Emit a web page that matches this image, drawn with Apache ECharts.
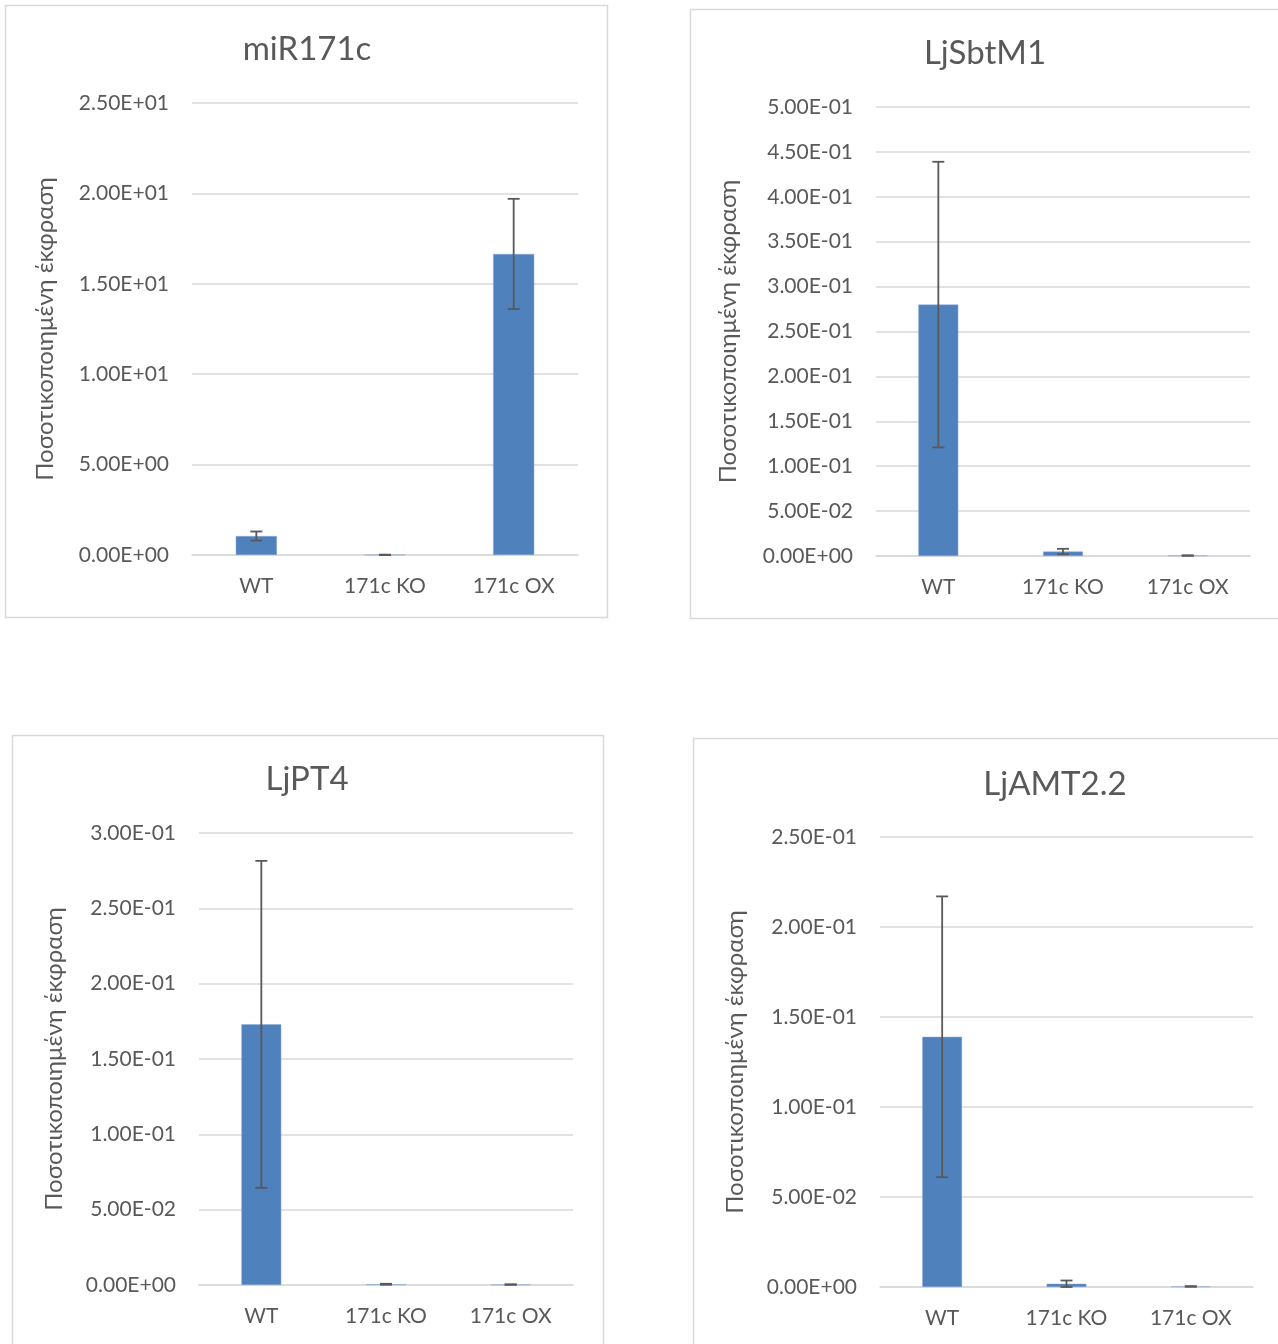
<!DOCTYPE html>
<html>
<head>
<meta charset="utf-8">
<style>
  html, body { margin: 0; padding: 0; background: #ffffff; }
  #chart { width: 1278px; height: 1344px; }
</style>
<script src="https://cdn.jsdelivr.net/npm/echarts@6/dist/echarts.min.js"></script>
</head>
<body>
<div id="chart"></div>
<script>
// Relative expression of four genes in WT, knock-out and over-expression lines
const categories = ['WT', '171c KO', '171c OX'];
const genes = ['miR171c', 'LjSbtM1', 'LjPT4', 'LjAMT2.2'];

const miR171cValues = [1.05, 0.01, 16.65];
const miR171cErrors = [0.25, 0.01, 3.05];

const LjSbtM1Values = [0.28, 0.005, 0.0005];
const LjSbtM1Errors = [0.159, 0.003, 0.0003];

const LjPT4Values = [0.173, 0.0005, 0.0003];
const LjPT4Errors = [0.1085, 0.0003, 0.0002];

const LjAMT22Values = [0.139, 0.0018, 0.0003];
const LjAMT22Errors = [0.078, 0.0018, 0.0002];

// y-axis ranges: max and tick interval per panel
const axisMax = [25, 0.5, 0.3, 0.25];
const axisStep = [5, 0.05, 0.05, 0.05];

const yTitle = 'Ποσοτικοποιημένη έκφραση';

const allValues = [miR171cValues, LjSbtM1Values, LjPT4Values, LjAMT22Values];
const allErrors = [miR171cErrors, LjSbtM1Errors, LjPT4Errors, LjAMT22Errors];

// Panel layout (frame box, plot box, title centre, axis-name gap)
const panels = [
  { frame: [5, 5, 602, 612],     grid: [192, 103, 386, 452], titleX: 307,  titleY: 33,  nameGap: 135 },
  { frame: [690, 9, 600, 609],   grid: [876, 107, 374, 449], titleX: 985,  titleY: 37,  nameGap: 136 },
  { frame: [12, 735, 591, 640],  grid: [199, 833, 374, 452], titleX: 307,  titleY: 763, nameGap: 133 },
  { frame: [693, 738, 600, 640], grid: [880, 837, 373, 450], titleX: 1055, titleY: 768, nameGap: 133 }
];

const FONT = 'Lato, "Open Sans", sans-serif';
const TEXT = '#595959';
const GRID_LINE = '#d9d9d9';
const BAR = '#4f81bd';

// Excel-style scientific tick labels, e.g. 2.50E+01
function sci(v) {
  if (v === 0) return '0.00E+00';
  let e = Math.floor(Math.log10(Math.abs(v)) + 1e-9);
  let ms = (v / Math.pow(10, e)).toFixed(2);
  if (parseFloat(ms) >= 10) { e += 1; ms = (v / Math.pow(10, e)).toFixed(2); }
  const sign = e < 0 ? '-' : '+';
  const ae = Math.abs(e);
  return ms + 'E' + sign + (ae < 10 ? '0' + ae : '' + ae);
}

const chart = echarts.init(document.getElementById('chart'), null, { renderer: 'canvas' });

const grid = [], xAxis = [], yAxis = [], series = [], title = [], graphic = [];

panels.forEach((p, i) => {
  graphic.push({
    type: 'rect', z: -10,
    shape: { x: p.frame[0] + 0.5, y: p.frame[1] + 0.5, width: p.frame[2], height: p.frame[3] },
    style: { fill: '#ffffff', stroke: GRID_LINE, lineWidth: 1.5 }
  });
  title.push({
    text: genes[i], left: p.titleX, top: p.titleY, textAlign: 'center', padding: 0,
    textStyle: { fontFamily: FONT, fontSize: 33, fontWeight: 'normal', color: TEXT }
  });
  grid.push({ left: p.grid[0], top: p.grid[1], width: p.grid[2], height: p.grid[3], containLabel: false });
  xAxis.push({
    type: 'category', gridIndex: i, data: categories,
    axisLine: { show: true, lineStyle: { color: GRID_LINE, width: 1.5 } },
    axisTick: { show: false },
    axisLabel: { fontFamily: FONT, fontSize: 21, color: TEXT, margin: 21 }
  });
  yAxis.push({
    type: 'value', gridIndex: i, min: 0, max: axisMax[i], interval: axisStep[i],
    name: yTitle, nameLocation: 'middle', nameRotate: 90, nameGap: p.nameGap,
    nameTextStyle: { fontFamily: FONT, fontSize: 24, color: TEXT },
    axisLine: { show: false }, axisTick: { show: false },
    splitLine: { lineStyle: { color: GRID_LINE, width: 1.5 } },
    axisLabel: { fontFamily: FONT, fontSize: 21, color: TEXT, margin: 23, formatter: sci }
  });
  series.push({
    type: 'bar', xAxisIndex: i, yAxisIndex: i,
    data: allValues[i], barWidth: '32%',
    itemStyle: { color: BAR, borderColor: '#8eaad6', borderWidth: 0.5 },
    silent: true
  });
  // error bars: vertical whisker with caps at value ± error
  series.push({
    type: 'custom', xAxisIndex: i, yAxisIndex: i, z: 5, silent: true,
    data: allValues[i].map((v, k) => [k, v, allErrors[i][k]]),
    encode: { x: 0, y: 1 },
    renderItem: function (params, api) {
      const k = api.value(0), v = api.value(1), e = api.value(2);
      const hi = api.coord([k, v + e]);
      const lo = api.coord([k, Math.max(0, v - e)]);
      const cap = 6;
      const st = { stroke: '#595959', lineWidth: 1.8 };
      return {
        type: 'group',
        children: [
          { type: 'line', shape: { x1: hi[0], y1: hi[1], x2: lo[0], y2: lo[1] }, style: st },
          { type: 'line', shape: { x1: hi[0] - cap, y1: hi[1], x2: hi[0] + cap, y2: hi[1] }, style: st },
          { type: 'line', shape: { x1: lo[0] - cap, y1: lo[1], x2: lo[0] + cap, y2: lo[1] }, style: st }
        ]
      };
    }
  });
});

chart.setOption({
  backgroundColor: '#ffffff',
  animation: false,
  title, grid, xAxis, yAxis, series, graphic
});
</script>
</body>
</html>
